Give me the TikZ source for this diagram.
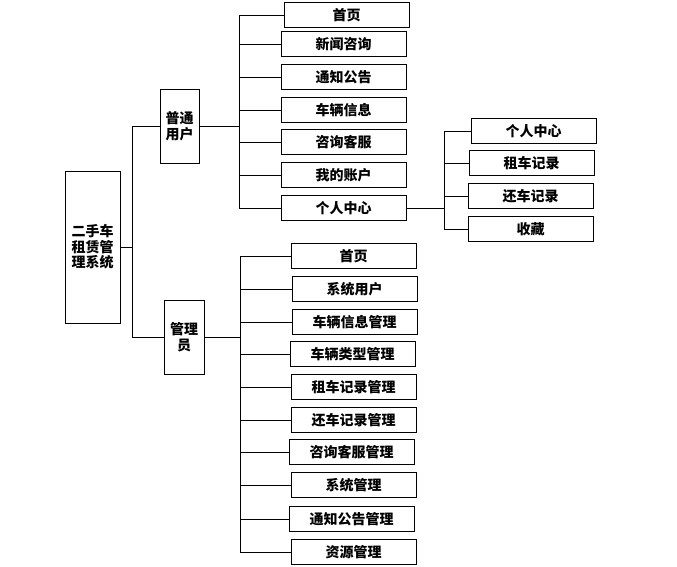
\documentclass[tikz,border=0pt]{standalone}
\usepackage{fontspec}
\newfontfamily\cjk{Noto Sans CJK SC}
\begin{document}
\begin{tikzpicture}[x=1pt,y=-1pt,
  every node/.style={font=\cjk\bfseries\fontsize{14}{15.5}\selectfont},
  leaf/.style={draw, line width=0.8pt, minimum width=125pt, minimum height=25pt, inner sep=0pt},
  tall/.style={draw, line width=0.8pt, inner sep=0pt, align=center},
  conn/.style={line width=0.8pt}]
\useasboundingbox (0,0) rectangle (677,567);
% root and roles
\node[tall, minimum width=55pt, minimum height=152pt] (root) at (92.5,247) {二手车\\租赁管\\理系统};
\node[tall, minimum width=39pt, minimum height=74pt] (user) at (179.5,126) {普通\\用户};
\node[tall, minimum width=40pt, minimum height=74pt] (admin) at (184,337) {管理\\员};
% user children
\node[leaf] (u1) at (346.5,15) {首页};
\node[leaf] (u2) at (343.5,44) {新闻咨询};
\node[leaf] (u3) at (343.5,77) {通知公告};
\node[leaf] (u4) at (343.5,110) {车辆信息};
\node[leaf] (u5) at (343.5,142) {咨询客服};
\node[leaf] (u6) at (343.5,175) {我的账户};
\node[leaf] (u7) at (343.5,208) {个人中心};
% personal centre children
\node[leaf] (p1) at (533.5,131) {个人中心};
\node[leaf] (p2) at (531.5,163) {租车记录};
\node[leaf] (p3) at (530.5,196) {还车记录};
\node[leaf] (p4) at (530.5,229) {收藏};
% admin children
\node[leaf] (a1) at (353.5,256) {首页};
\node[leaf] (a2) at (354.5,289) {系统用户};
\node[leaf] (a3) at (354.5,322) {车辆信息管理};
\node[leaf] (a4) at (352.5,354) {车辆类型管理};
\node[leaf] (a5) at (353.5,387) {租车记录管理};
\node[leaf] (a6) at (353.5,420) {还车记录管理};
\node[leaf] (a7) at (351.5,452) {咨询客服管理};
\node[leaf] (a8) at (353.5,485) {系统管理};
\node[leaf] (a9) at (351.5,519) {通知公告管理};
\node[leaf] (a10) at (353.5,552) {资源管理};
% junctions
\coordinate (j0) at (132,247);
\coordinate (j1) at (239,126);
\coordinate (j2) at (240,337);
\coordinate (j3) at (444,208);
% connectors
\draw[conn] (root.east) -- (j0);
\draw[conn] (user.west) -| (j0);
\draw[conn] (admin.west) -| (j0);
\draw[conn] (user.east) -- (j1);
\foreach \n in {u1,u2,u3,u4,u5,u6,u7} \draw[conn] (\n.west) -| (j1);
\draw[conn] (u7.east) -- (j3);
\foreach \n in {p1,p2,p3,p4} \draw[conn] (\n.west) -| (j3);
\draw[conn] (admin.east) -- (j2);
\foreach \n in {a1,a2,a3,a4,a5,a6,a7,a8,a9,a10} \draw[conn] (\n.west) -| (j2);
\end{tikzpicture}
\end{document}
